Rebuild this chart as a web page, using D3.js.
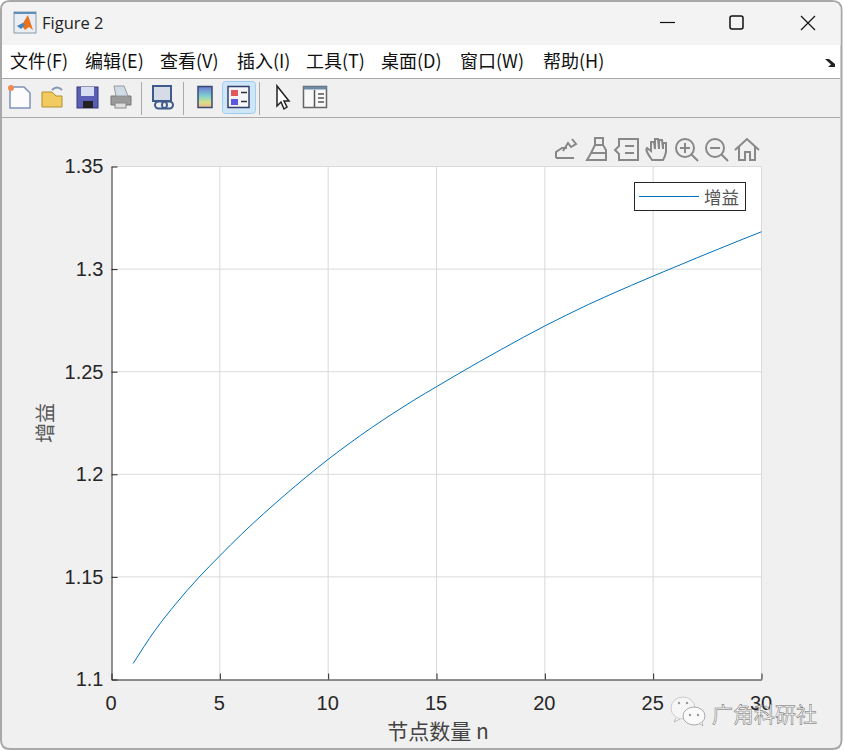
<!DOCTYPE html>
<html><head><meta charset="utf-8">
<script src="https://cdn.jsdelivr.net/npm/d3@7"></script>
<style>html,body{margin:0;padding:0;background:#fff;overflow:hidden}svg{display:block}</style>
</head><body><div id="c"></div>
<script>
const nodes=[1,2,3,4,5,6,7,8,9,10,11,12,13,14,15,16,17,18,19,20,21,22,23,24,25,26,27,28,29,30];
const gain=[1.1078,1.1238,1.1373,1.1494,1.1603,1.1708,1.1806,1.1899,1.1988,1.2073,1.2152,1.2227,1.2297,1.2364,1.2427,1.2489,1.2550,1.2609,1.2667,1.2723,1.2776,1.2827,1.2875,1.2921,1.2966,1.3010,1.3054,1.3097,1.3140,1.3182];
const xTicks=[0,5,10,15,20,25,30];
const yTicks=[1.1,1.15,1.2,1.25,1.3,1.35];
const yTickLabels=["1.1","1.15","1.2","1.25","1.3","1.35"];
const menuItems=[["文件(F)",10],["编辑(E)",85],["查看(V)",160],["插入(I)",237],["工具(T)",306],["桌面(D)",381],["窗口(W)",460],["帮助(H)",543]];
const seriesName="增益",xLabel="节点数量 n",yLabel="增益",windowTitle="Figure 2",watermark="广角科研社";

const W=844,H=751;
const svg=d3.select("#c").append("svg").attr("width",W).attr("height",H);
const CJK="'Noto Sans CJK SC','Noto Sans',sans-serif", SANS="'Liberation Sans',Arial,sans-serif";
// window chrome
svg.append("rect").attr("width",W).attr("height",H).attr("fill","#fff");
svg.append("path").attr("d","M1 10Q1 1 10 1H832Q841.5 1 841.5 10V740Q841.5 749 832 749H10Q1 749 1 740Z").attr("fill","#f0f0f0").attr("stroke","#a8a8a8").attr("stroke-width",2);
svg.append("path").attr("d","M2 45V10Q2 2 10 2H832Q840.5 2 840.5 10V45Z").attr("fill","#f3f3f3");
svg.append("rect").attr("x",2).attr("y",45).attr("width",838).attr("height",33).attr("fill","#fff");
svg.append("rect").attr("x",2).attr("y",78).attr("width",838).attr("height",1).attr("fill","#a9a9a9");
svg.append("rect").attr("x",2).attr("y",117).attr("width",838).attr("height",1).attr("fill","#aaa");
// title bar
const logo=svg.append("g");
logo.append("rect").attr("x",14).attr("y",12).attr("width",22).attr("height",21).attr("fill","#e8eef4").attr("stroke","#8a9aa8");
logo.append("rect").attr("x",14).attr("y",12).attr("width",22).attr("height",2).attr("fill","#5d8fb8");
logo.append("path").attr("d","M17 26L23 23L28 15L33 30L29 27L25 30L22 26Z").attr("fill","#e8731f");
logo.append("path").attr("d","M17 26L23 23L25 25L21 29Z").attr("fill","#3f86c4");
svg.append("text").attr("x",42).attr("y",29).attr("font-family","'Open Sans','Noto Sans',sans-serif").attr("font-size",16.5).attr("fill","#222").text(windowTitle);
const wb=svg.append("g").attr("fill","none").attr("stroke","#111");
wb.append("line").attr("x1",660).attr("x2",675).attr("y1",22.5).attr("y2",22.5).attr("stroke-width",1.2);
wb.append("rect").attr("x",730).attr("y",16).attr("width",13).attr("height",13).attr("rx",2).attr("stroke-width",1.5);
wb.append("path").attr("d","M801 16L815 30M815 16L801 30").attr("stroke-width",1.2);
// menu
svg.append("g").selectAll("text").data(menuItems).join("text").attr("x",d=>d[1]).attr("y",68)
 .attr("font-family",CJK).attr("font-size",18).attr("fill","#111").text(d=>d[0]);
svg.append("path").attr("d","M825 59H829L835 64V60V67H828L831 64.5Z").attr("fill","#222");
// toolbar icons
const tb=svg.append("g");
tb.append("path").attr("d","M10 87H24L30 93V108H10Z").attr("fill","#fcfcff").attr("stroke","#7d93b8").attr("stroke-width",1.5);
tb.append("circle").attr("cx",11).attr("cy",88).attr("r",3).attr("fill","#ee8a55");
tb.append("path").attr("d","M42 92H52L56 96H62V107H42Z").attr("fill","#f1cb60").attr("stroke","#b58f2d");
tb.append("path").attr("d","M52 90Q57 85 62 90").attr("fill","none").attr("stroke","#7f99b0").attr("stroke-width",2);
tb.append("rect").attr("x",77).attr("y",87).attr("width",21).attr("height",21).attr("fill","#5a5fb5").attr("stroke","#35387f");
tb.append("rect").attr("x",81).attr("y",87).attr("width",13).attr("height",9).attr("fill","#d8dcf0");
tb.append("rect").attr("x",83).attr("y",101).attr("width",10).attr("height",7).attr("fill","#222");
tb.append("path").attr("d","M111 96H131V105H111Z").attr("fill","#9a9a9a").attr("stroke","#777");
tb.append("path").attr("d","M114 86H124L128 96H116Z").attr("fill","#cfdbe6").attr("stroke","#999");
tb.append("rect").attr("x",115).attr("y",103).attr("width",11).attr("height",5).attr("fill","#ddd").attr("stroke","#888");
tb.append("rect").attr("x",153).attr("y",86).attr("width",18).attr("height",15).attr("fill","#d5dce8").attr("stroke","#3f5b8c").attr("stroke-width",2);
tb.append("path").attr("d","M155 105a3.5 3.5 0 0 1 3.5-3.500h5a3.5 3.500 0 0 1 0 7h-5a3.500 3.500 0 0 1-3.500-3.500ZM162 105a3.500 3.500 0 0 1 3.500-3.500h4a3.500 3.500 0 0 1 0 7h-4a3.500 3.500 0 0 1-3.500-3.500Z").attr("fill","none").attr("stroke","#3f5b8c").attr("stroke-width",2);
[141.5,183.5,259.5].forEach(px=>tb.append("line").attr("x1",px).attr("x2",px).attr("y1",82).attr("y2",115).attr("stroke","#aaa"));
const grad=svg.append("defs").append("linearGradient").attr("id","cb").attr("x1",0).attr("x2",0).attr("y1",0).attr("y2",1);
[["0","#6c78d8"],[".45","#7fd0d0"],[".75","#d8e08a"],["1","#f0b890"]].forEach(s=>grad.append("stop").attr("offset",s[0]).attr("stop-color",s[1]));
tb.append("rect").attr("x",198).attr("y",86.5).attr("width",14).attr("height",21).attr("fill","url(#cb)").attr("stroke","#3a4a70").attr("stroke-width",1.5);
tb.append("rect").attr("x",222.5).attr("y",81.5).attr("width",33).attr("height",32).attr("rx",3).attr("fill","#cfe6f8").attr("stroke","#9fcdf0");
tb.append("rect").attr("x",228).attr("y",86.5).attr("width",21).attr("height",21).attr("fill","#f5f5fa").attr("stroke","#33406a").attr("stroke-width",1.5);
tb.append("rect").attr("x",231).attr("y",90).attr("width",7).attr("height",6).attr("fill","#e05a5a");
tb.append("rect").attr("x",231).attr("y",99).attr("width",7).attr("height",6).attr("fill","#5a5ae0");
tb.append("path").attr("d","M241 92.5H247M241 101.5H247").attr("stroke","#333").attr("stroke-width",1.5);
tb.append("path").attr("d","M277 86V106L281 102L284 109L287 107L284 101H289Z").attr("fill","#fff").attr("stroke","#222").attr("stroke-width",1.5);
tb.append("rect").attr("x",303.5).attr("y",86.5).attr("width",23).attr("height",21).attr("fill","#f8f8f8").attr("stroke","#666").attr("stroke-width",1.5);
tb.append("rect").attr("x",303.5).attr("y",86.5).attr("width",23).attr("height",3).attr("fill","#6d8ba8");
tb.append("path").attr("d","M314.5 90V107M318 94H324M318 98H324M318 102H324").attr("stroke","#555").attr("stroke-width",1.5);
// plot
const pLeft=111.5,pRight=761.5,pTop=166.5,pBottom=679.5;
const x=d3.scaleLinear().domain([0,30]).range([pLeft,pRight]);
const y=d3.scaleLinear().domain([1.1,1.35]).range([pBottom,pTop]);
svg.append("rect").attr("x",pLeft).attr("y",pTop).attr("width",pRight-pLeft).attr("height",pBottom-pTop).attr("fill","#fff");
const grid=svg.append("g").attr("stroke","#dadada").attr("stroke-width",1);
grid.selectAll("line.v").data(xTicks.slice(1)).join("line").attr("class","v").attr("x1",d=>x(d)).attr("x2",d=>x(d)).attr("y1",pTop).attr("y2",pBottom);
grid.selectAll("line.h").data(yTicks.slice(1)).join("line").attr("class","h").attr("y1",d=>y(d)).attr("y2",d=>y(d)).attr("x1",pLeft).attr("x2",pRight);
const ax=svg.append("g").attr("transform",`translate(0,${pBottom})`).call(d3.axisBottom(x).tickValues(xTicks).tickSize(-6).tickSizeOuter(0).tickPadding(16).tickFormat(d3.format("d")));
const ay=svg.append("g").attr("transform",`translate(${pLeft},0)`).call(d3.axisLeft(y).tickValues(yTicks).tickSize(-6).tickSizeOuter(0).tickPadding(8).tickFormat((d,i)=>yTickLabels[i]));
[ax,ay].forEach(a=>{a.selectAll("path.domain").attr("stroke","#262626").attr("stroke-width",1);a.selectAll("line").attr("stroke","#262626");
 a.selectAll("text").attr("font-family",SANS).attr("font-size",20).attr("fill","#262626");});
ax.selectAll("text").attr("dx",-1);
const lineGen=d3.line().x((d,i)=>x(nodes[i])).y(d=>y(d)).curve(d3.curveMonotoneX);
svg.append("path").datum(gain).attr("d",lineGen).attr("fill","none").attr("stroke","#0072bd").attr("stroke-width",1);
// axis labels
svg.append("text").attr("x",438).attr("y",739).attr("text-anchor","middle").attr("font-family",CJK).attr("font-size",21).attr("fill","#444").text(xLabel);
svg.append("text").attr("transform","translate(53,423) rotate(-90)").attr("text-anchor","middle").attr("font-family",CJK).attr("font-size",20).attr("fill","#555").text(yLabel);
// legend
svg.append("rect").attr("x",634.5).attr("y",182.5).attr("width",111).attr("height",28).attr("fill","#fff").attr("stroke","#262626");
svg.append("line").attr("x1",639).attr("x2",699).attr("y1",196.5).attr("y2",196.5).attr("stroke","#0072bd");
svg.append("text").attr("x",704).attr("y",203.5).attr("font-family",CJK).attr("font-size",17.5).attr("fill","#555").text(seriesName);
// axes toolbar
const at=svg.append("g").attr("fill","none").attr("stroke","#888").attr("stroke-width",2);
at.append("path").attr("d","M556 158V152L562 148H567M556 158H574M563 151L568 143L571 147L576 144L572 139");
at.append("path").attr("d","M595 138H603V145H595ZM595 145L590 155L587 160H606V150L603 145M591 153H606");
at.append("path").attr("d","M619 139H638V160H619V154L615 150L619 146ZM625 146H634M625 153H634");
at.append("path").attr("d","M652 160C648 154 645 150 647 148L651 151V142L654 142L655 149V139H658L659 149V140H662L663 149V143H666V152Q665 157 663 160Z");
at.append("circle").attr("cx",685).attr("cy",148).attr("r",9);
at.append("path").attr("d","M691.5 154.5L698 161M680 148H690M685 143V153");
at.append("circle").attr("cx",715).attr("cy",148).attr("r",9);
at.append("path").attr("d","M721.5 154.5L728 161M710 148H720");
at.append("path").attr("d","M735 150L747 139L759 150M739 147V160H745V152H750V160H755V147");
// watermark
const wm=svg.append("g");
wm.append("ellipse").attr("cx",683).attr("cy",708).attr("rx",12).attr("ry",11).attr("fill","#f6f6f6").attr("stroke","#ccc");
wm.append("ellipse").attr("cx",694).attr("cy",716).attr("rx",11).attr("ry",9).attr("fill","#fafafa").attr("stroke","#aaa");
wm.append("path").attr("d","M676 718L674 722L680 719M700 724L703 726L702 722").attr("fill","#f6f6f6").attr("stroke","#bbb");
[[679,703],[687,703],[690,715],[698,715]].forEach(p=>wm.append("circle").attr("cx",p[0]).attr("cy",p[1]).attr("r",1.2).attr("fill","#999"));
wm.append("text").attr("x",712).attr("y",722).attr("font-family",CJK).attr("font-size",21).attr("fill","#fff").attr("stroke","#666").attr("stroke-width",.5).text(watermark);
</script></body></html>
